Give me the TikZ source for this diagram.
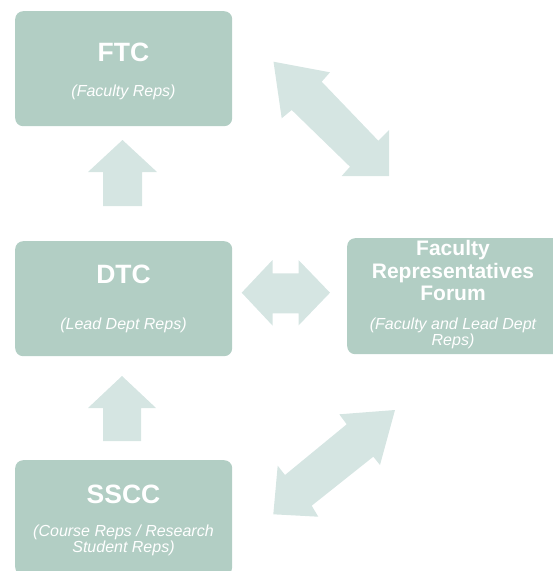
\documentclass[tikz,border=0pt]{standalone}
\usepackage{fontspec}
\setmainfont{Liberation Sans}
\definecolor{boxfill}{RGB}{178,206,196}
\definecolor{arrowfill}{RGB}{213,229,226}
\begin{document}
\begin{tikzpicture}[x=1pt,y=-1pt,
  box/.style={fill=boxfill, draw=none, rounded corners=8pt, inner sep=0pt,
    minimum width=217pt, minimum height=115pt, anchor=north west},
  blockarrow/.style={fill=arrowfill, draw=none},
  title/.style={text=white, font=\bfseries\fontsize{26.5}{30}\selectfont, anchor=base, inner sep=0pt},
  ftitle/.style={text=white, font=\bfseries\fontsize{21}{23}\selectfont, anchor=base, inner sep=0pt},
  sub/.style={text=white, font=\itshape\fontsize{16}{18}\selectfont, anchor=base, inner sep=0pt}]
\useasboundingbox (0,0) rectangle (553,571);
\clip (0,0) rectangle (553,571);

% boxes
\node[box] (ftc) at (15,11) {};
\node[box] (dtc) at (15,241) {};
\node[box] (sscc) at (15,460) {};
\node[box, minimum height=116pt] (frf) at (347,238) {};

% texts
\node[title] (ftcT) at (123.5,61.5) {FTC};
\node[sub] (ftcS) at (123.5,96.5) {(Faculty Reps)};
\node[title] (dtcT) at (123.5,283.5) {DTC};
\node[sub] (dtcS) at (123.5,329) {(Lead Dept Reps)};
\node[title] (ssccT) at (123.5,503) {SSCC};
\node[sub] (ssccS1) at (123.5,536.5) {(Course Reps / Research};
\node[sub] (ssccS2) at (123.5,552.5) {Student Reps)};
\node[ftitle] (frfT1) at (453,255) {Faculty};
\node[ftitle] (frfT2) at (453,278) {Representatives};
\node[ftitle] (frfT3) at (453,300.5) {Forum};
\node[sub] (frfS1) at (453,329) {(Faculty and Lead Dept};
\node[sub] (frfS2) at (453,345.5) {Reps)};

% block arrows
\fill[blockarrow] (122.5,140) -- (157,172) -- (142,172) -- (142,206) -- (103,206)
  -- (103,172) -- (88,172) -- cycle;
\fill[blockarrow] (122,376) -- (156,408) -- (141,408) -- (141,441) -- (103,441)
  -- (103,408) -- (88,408) -- cycle;
\fill[blockarrow] (241.7,292.7) -- (272.5,260) -- (272.5,273.3) -- (298.5,273.3)
  -- (298.5,260) -- (330,292.7) -- (298.5,325.5) -- (298.5,313.3) -- (272.5,313.3)
  -- (272.5,325.5) -- cycle;
\fill[blockarrow] (273.5,61.7) -- (330,72.3) -- (321.7,81.7) -- (378.3,140.7)
  -- (389,130) -- (389,176) -- (341.7,176) -- (350,166.7) -- (291.7,110)
  -- (281.7,118.3) -- cycle;
\fill[blockarrow] (395,410) -- (380,465) -- (373.3,456.7) -- (311.7,505.7)
  -- (318.3,516.7) -- (273.3,514.3) -- (277.7,465.7) -- (285,475)
  -- (346.7,424.3) -- (339.3,414.3) -- cycle;
\end{tikzpicture}
\end{document}
